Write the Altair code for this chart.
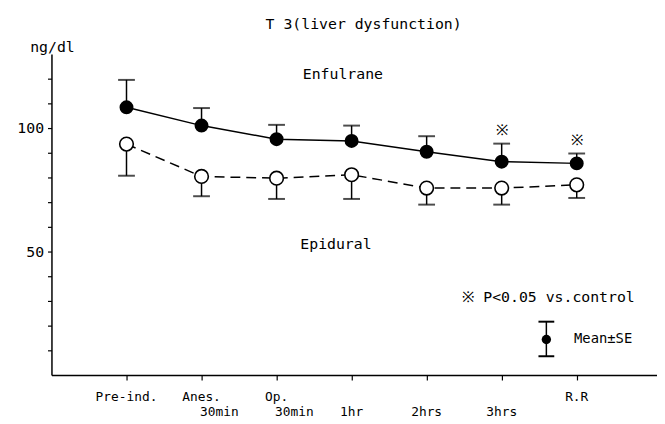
import altair as alt
import pandas as pd

# ---- data ----
categories = ["Pre-ind.", "Anes. 30min", "Op. 30min", "1hr", "2hrs", "3hrs", "R.R"]
label_line1 = ["Pre-ind.", "Anes.", "Op.", "", "", "", "R.R"]
label_line2 = ["", "30min", "30min", "1hr", "2hrs", "3hrs", ""]
enf_mean = [108.4, 101.0, 95.5, 94.8, 90.4, 86.4, 85.7]
enf_se = [11.1, 7.1, 5.8, 6.2, 6.3, 7.3, 4.0]
epi_mean = [93.5, 80.4, 79.7, 81.1, 75.7, 75.7, 77.0]
epi_se = [12.8, 8.0, 8.4, 9.8, 6.7, 6.7, 5.3]
significant = [False, False, False, False, False, True, True]
y_ticks = [10, 20, 30, 40, 50, 60, 70, 80, 90, 100, 110, 120]
y_labels = [50, 100]

FONT = "DejaVu Sans Mono"

idx = list(range(len(categories)))
enf = pd.DataFrame({"i": idx, "cat": categories, "mean": enf_mean,
                    "hi": [m + s for m, s in zip(enf_mean, enf_se)],
                    "sig": significant})
epi = pd.DataFrame({"i": idx, "cat": categories, "mean": epi_mean,
                    "lo": [m - s for m, s in zip(epi_mean, epi_se)]})
labels = pd.DataFrame({"i": idx, "l1": label_line1, "l2": label_line2})

xscale = alt.Scale(domain=[-1, 7.07], nice=False, zero=False)
yscale = alt.Scale(domain=[0, 130], nice=False, zero=False)

x_axis = alt.Axis(values=idx, labels=False, title=None, grid=False, tickSize=5,
                  tickColor="black", domainColor="black", domainWidth=1.5, tickWidth=1.2)
label_expr = "indexof(" + str(y_labels) + ", datum.value) >= 0 ? datum.value : ''"
y_axis = alt.Axis(values=y_ticks, labelExpr=label_expr, title=None, grid=False, tickSize=4,
                  tickColor="black", domainColor="black", domainWidth=1.5, tickWidth=1.2,
                  labelFont=FONT, labelFontSize=15, labelColor="black", labelPadding=4)

X = alt.X("i:Q", scale=xscale, axis=x_axis)


def Y(field):
    return alt.Y(field, type="quantitative", scale=yscale, axis=y_axis)


enf_line = alt.Chart(enf).mark_line(color="black", strokeWidth=1.5).encode(x=X, y=Y("mean"))
enf_err = alt.Chart(enf).mark_rule(color="black", strokeWidth=1.5).encode(x=X, y=Y("mean"), y2="hi:Q")
enf_cap = alt.Chart(enf).mark_tick(color="black", orient="horizontal", size=17, thickness=2).encode(
    x=X, y=Y("hi"))
enf_pts = alt.Chart(enf).mark_point(shape="circle", filled=True, color="black", size=200, opacity=1).encode(
    x=X, y=Y("mean"))
enf_sig = alt.Chart(enf).transform_filter("datum.sig").mark_text(
    text="※", font=FONT, fontSize=15, color="black", dy=-14, baseline="middle").encode(
    x=X, y=Y("hi"))

epi_line = alt.Chart(epi).mark_line(color="black", strokeWidth=1.5, strokeDash=[10, 6]).encode(
    x=X, y=Y("mean"))
epi_err = alt.Chart(epi).mark_rule(color="black", strokeWidth=1.5).encode(x=X, y=Y("mean"), y2="lo:Q")
epi_cap = alt.Chart(epi).mark_tick(color="black", orient="horizontal", size=17, thickness=2).encode(
    x=X, y=Y("lo"))
epi_pts = alt.Chart(epi).mark_point(shape="circle", filled=True, fill="white", stroke="black",
                                    strokeWidth=1.6, size=190, opacity=1).encode(x=X, y=Y("mean"))

lab1 = alt.Chart(labels).mark_text(font=FONT, fontSize=13, color="black", baseline="middle").encode(
    x=X, y=alt.value(347), text="l1:N")
# "30min" labels sit to the right of their ticks in the reference
lab2a = alt.Chart(labels).transform_filter("datum.i >= 1 && datum.i <= 2").mark_text(
    font=FONT, fontSize=13, color="black", baseline="middle", dx=18).encode(
    x=X, y=alt.value(362), text="l2:N")
lab2b = alt.Chart(labels).transform_filter("datum.i < 1 || datum.i > 2").mark_text(
    font=FONT, fontSize=13, color="black", baseline="middle").encode(
    x=X, y=alt.value(362), text="l2:N")


def note(txt, x, y, size=15, align="center"):
    return alt.Chart(pd.DataFrame({"t": [txt]})).mark_text(
        font=FONT, fontSize=size, color="black", align=align, baseline="middle").encode(
        x=alt.value(x), y=alt.value(y), text="t:N")


title = note("T 3(liver dysfunction)", 316, -30, 15)
ylab = note("ng/dl", 1, -7, 15)
enf_lab = note("Enfulrane", 295, 20, 15)
epi_lab = note("Epidural", 288, 192, 15)
sig_lab = note("※ P<0.05 vs.control", 416, 246, 15, "left")
mse_lab = note("Mean±SE", 529, 289, 14, "left")

one = pd.DataFrame({"a": [0]})
leg_rule = alt.Chart(one).mark_rule(color="black", strokeWidth=1.5).encode(
    x=alt.value(501), y=alt.value(271), y2=alt.value(306))
leg_cap1 = alt.Chart(one).mark_rule(color="black", strokeWidth=2).encode(
    x=alt.value(493), x2=alt.value(509), y=alt.value(271))
leg_cap2 = alt.Chart(one).mark_rule(color="black", strokeWidth=2).encode(
    x=alt.value(493), x2=alt.value(509), y=alt.value(306))
leg_pt = alt.Chart(one).mark_point(shape="circle", filled=True, color="black",
                                   size=90, opacity=1).encode(x=alt.value(501), y=alt.value(289))

chart = alt.layer(
    enf_line, epi_line, enf_err, enf_cap, epi_err, epi_cap, enf_pts, epi_pts, enf_sig,
    lab1, lab2a, lab2b, title, ylab, enf_lab, epi_lab, sig_lab, mse_lab,
    leg_rule, leg_cap1, leg_cap2, leg_pt,
).properties(
    width=613, height=325,
    autosize=alt.AutoSizeParams(type="none"),
    padding={"left": 44, "top": 44, "right": 0, "bottom": 44},
    background="white",
).configure_view(stroke=None)

chart.save("out.html", embed_options={"renderer": "svg", "actions": False})
